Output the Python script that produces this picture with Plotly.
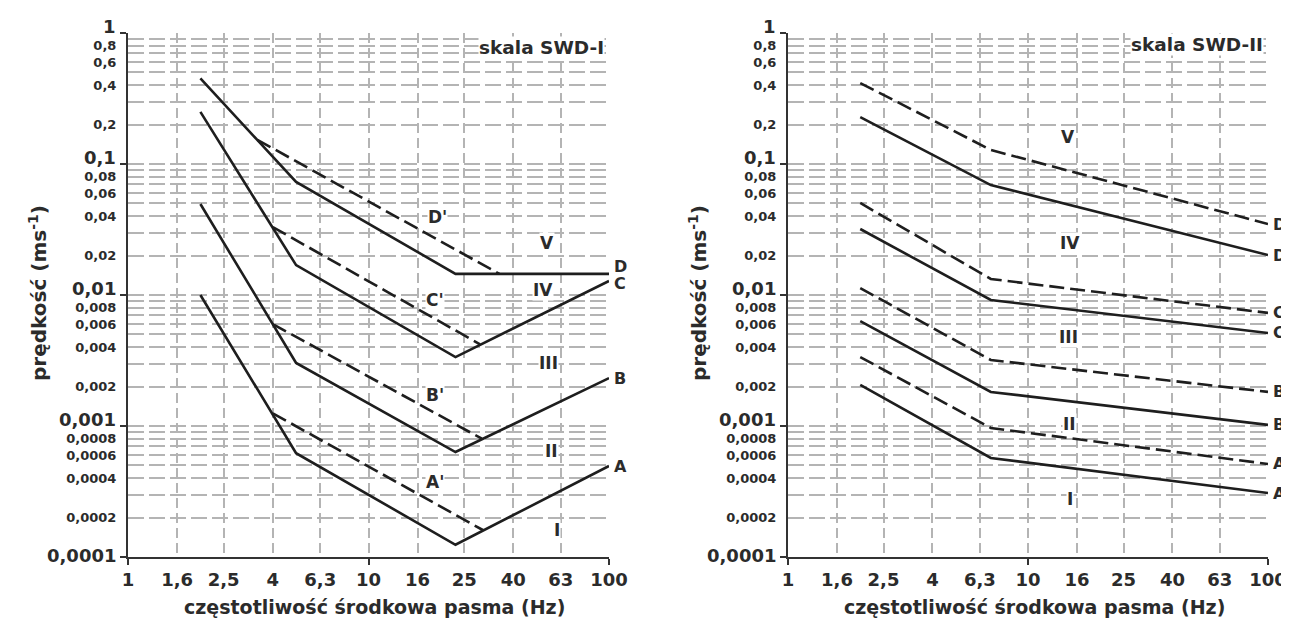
import math
import plotly.graph_objects as go

# ---------------- data ----------------
freq_ticks = [1, 1.6, 2.5, 4, 6.3, 10, 16, 25, 40, 63, 100]
freq_labels = ["1", "1,6", "2,5", "4", "6,3", "10", "16", "25", "40", "63", "100"]
freq_major = [1, 10, 100]

# SWD-I (left panel): solid A-D, dashed A'-D'
swd1_A_f = [2, 5, 23, 100];  swd1_A_v = [0.0100, 0.00062, 0.000124, 0.000495]
swd1_B_f = [2, 5, 23, 100];  swd1_B_v = [0.0495, 0.00303, 0.000633, 0.00232]
swd1_C_f = [2, 5, 23, 100];  swd1_C_v = [0.25, 0.0169, 0.00336, 0.0128]
swd1_D_f = [2, 5, 23, 100];  swd1_D_v = [0.45, 0.073, 0.0145, 0.0145]
swd1_A1_f = [4, 30];    swd1_A1_v = [0.00125, 0.00016]
swd1_B1_f = [4, 29.6];  swd1_B1_v = [0.0060, 0.00080]
swd1_C1_f = [4, 29.1];  swd1_C1_v = [0.033, 0.0042]
swd1_D1_f = [3.45, 35]; swd1_D1_v = [0.153, 0.0145]

# SWD-II (right panel)
swd2_f = [2, 7, 100]
swd2_A_v = [0.00206, 0.00057, 0.000308]
swd2_B_v = [0.00633, 0.00182, 0.00102]
swd2_C_v = [0.0319, 0.00916, 0.00513]
swd2_D_v = [0.228, 0.069, 0.0202]
swd2_A1_v = [0.00336, 0.000966, 0.000513]
swd2_B1_v = [0.0113, 0.00319, 0.00182]
swd2_C1_v = [0.0504, 0.01325, 0.0073]
swd2_D1_v = [0.415, 0.128, 0.0348]

# region labels: (text, log10 f, log10 v)
swd1_regions = [("D'", 1.285, -1.405), ("V", 1.742, -1.603), ("IV", 1.726, -1.962),
                ("C'", 1.277, -2.038), ("III", 1.750, -2.519), ("B'", 1.277, -2.763),
                ("II", 1.759, -3.191), ("A'", 1.277, -3.427), ("I", 1.784, -3.794)]
swd2_regions = [("V", 1.167, -0.794), ("IV", 1.175, -1.603), ("III", 1.167, -2.321),
                ("II", 1.171, -2.985), ("I", 1.175, -3.557)]

y_decades = [-4, -3, -2, -1]
y_mantissas = [1, 2, 3, 4, 5, 6, 7, 8, 9]
y_labelled = [2, 4, 6, 8]
y_major_vals = [1, 0.1, 0.01, 0.001, 0.0001]
y_major_text = ["1", "0,1", "0,01", "0,001", "0,0001"]

# ---------------- figure ----------------
INK = "#1e1e1e"
TXT = "#2b2b2b"
FONT = "DejaVu Sans"
OFF = 8                      # page body margin of the html wrapper
W, H = 1289 - OFF, 622 - OFF

def px(xs):
    return (xs - OFF) / W

def py(ys):
    return 1 - (ys - OFF) / H

fig = go.Figure()

def add_line(f, v, dash, xa, ya):
    fig.add_trace(go.Scatter(x=f, y=v, mode="lines", xaxis=xa, yaxis=ya,
                             line=dict(color=INK, width=2.6,
                                       dash="solid" if not dash else "15px,6px"),
                             showlegend=False, hoverinfo="skip"))

for f, v in [(swd1_A_f, swd1_A_v), (swd1_B_f, swd1_B_v), (swd1_C_f, swd1_C_v), (swd1_D_f, swd1_D_v)]:
    add_line(f, v, False, "x", "y")
for f, v in [(swd1_A1_f, swd1_A1_v), (swd1_B1_f, swd1_B1_v), (swd1_C1_f, swd1_C1_v), (swd1_D1_f, swd1_D1_v)]:
    add_line(f, v, True, "x", "y")
for v in [swd2_A_v, swd2_B_v, swd2_C_v, swd2_D_v]:
    add_line(swd2_f, v, False, "x2", "y2")
for v in [swd2_A1_v, swd2_B1_v, swd2_C1_v, swd2_D1_v]:
    add_line(swd2_f, v, True, "x2", "y2")

# y ticks (minor labels on the axis; decade labels drawn as raised annotations)
yvals, ytext = [], []
for k in y_decades:
    for m in y_mantissas:
        val = m * 10 ** k
        yvals.append(val)
        s = f"{val:.{-k}f}".replace(".", ",")
        ytext.append(s if m in y_labelled else "")
yvals.append(1)
ytext.append("")

grid_c = "#b4b4b4"

def xaxis_def(domain, anchor):
    return dict(type="log", range=[0, 2], domain=domain, anchor=anchor, automargin=False,
                tickmode="array", tickvals=freq_ticks, ticktext=freq_labels,
                ticks="", showgrid=True, gridcolor=grid_c, gridwidth=1.6, griddash="10px,5px",
                showline=True, linecolor="#333", linewidth=2, zeroline=False,
                tickfont=dict(family=FONT, size=18, color=TXT, weight="bold"),
                minor=dict(tickmode="array", tickvals=freq_major, ticks="outside",
                           ticklen=6, tickwidth=2, tickcolor="#333", showgrid=False),
                ticklabelstandoff=5)

def yaxis_def(anchor):
    return dict(type="log", range=[-4, 0], domain=[py(557), py(33)], anchor=anchor,
                automargin=False,
                tickmode="array", tickvals=yvals, ticktext=ytext,
                ticks="", showgrid=True, gridcolor=grid_c, gridwidth=1.6, griddash="16px,5px",
                showline=True, linecolor="#333", linewidth=2, zeroline=False,
                tickfont=dict(family=FONT, size=13, color=TXT, weight="bold"),
                minor=dict(tickmode="array", tickvals=y_major_vals, ticks="outside",
                           ticklen=6, tickwidth=2, tickcolor="#333", showgrid=False),
                ticklabelstandoff=7)

fig.update_layout(
    width=W, height=H, plot_bgcolor="white", paper_bgcolor="white",
    margin=dict(l=0, r=0, t=0, b=0, autoexpand=False), showlegend=False,
    font=dict(family=FONT, color=TXT),
    xaxis=xaxis_def([px(128), px(609)], "y"),
    yaxis=yaxis_def("x"),
    xaxis2=xaxis_def([px(788), px(1268)], "y2"),
    yaxis2=yaxis_def("x2"),
)

ann = []
def lab(text, x, y, xref, yref, size, **kw):
    d = dict(text=text, x=x, y=y, xref=xref, yref=yref, showarrow=False,
             xanchor="center", yanchor="middle",
             font=dict(family=FONT, size=size, color=TXT, weight="bold"))
    d.update(kw)
    ann.append(d)

# decade labels, raised slightly above their tick like the original
for yref, xs in [("y", 118), ("y2", 778)]:
    for val, t in zip(y_major_vals, y_major_text):
        lab(t, px(xs), math.log10(val), "paper", yref, 18, xanchor="right",
            yshift=2 if val < 0.0005 else 7)

for t, lx, ly in swd1_regions:
    lab(t, lx, ly, "x", "y", 17, bgcolor="white", borderpad=0)
for t, lx, ly in swd2_regions:
    lab(t, lx, ly, "x2", "y2", 17, bgcolor="white", borderpad=0)

# endpoint letters
for t, v, ys in [("D", swd1_D_v[-1], 7), ("C", swd1_C_v[-1], -3), ("B", swd1_B_v[-1], 0), ("A", swd1_A_v[-1], 0)]:
    lab(t, 2, math.log10(v), "x", "y", 16, xanchor="left", xshift=3, yshift=ys)
for t, v in [("D", swd2_D1_v[-1]), ("D", swd2_D_v[-1]), ("C", swd2_C1_v[-1]), ("C", swd2_C_v[-1]),
             ("B", swd2_B1_v[-1]), ("B", swd2_B_v[-1]), ("A", swd2_A1_v[-1]), ("A", swd2_A_v[-1])]:
    lab(t, 2, math.log10(v), "x2", "y2", 16, xanchor="left", xshift=3)

lab("skala SWD-I", 2, -0.11, "x", "y", 18.5, xanchor="right", xshift=-4, bgcolor="white", borderpad=0)
lab("skala SWD-II", 2, -0.085, "x2", "y2", 18.5, xanchor="right", xshift=-4, bgcolor="white", borderpad=0)

# axis titles
for xs in [38, 698]:
    lab("prędkość (ms<sup>-1</sup>)", px(xs), py(293), "paper", "paper", 20, textangle=-90)
for xs in [374, 1034]:
    lab("częstotliwość środkowa pasma (Hz)", px(xs), py(607), "paper", "paper", 19)

fig.update_layout(annotations=ann)
fig.write_html("out.html")
